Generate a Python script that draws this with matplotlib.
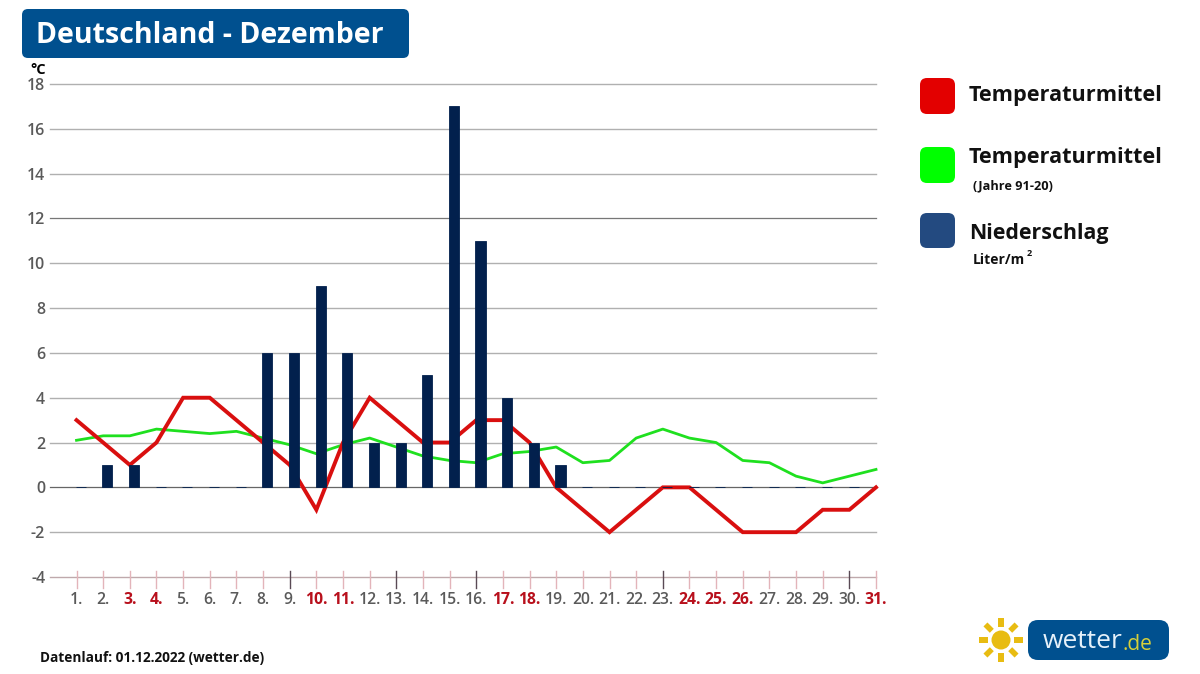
"""Deutschland - Dezember: daily mean temperature, climate mean and precipitation."""

import matplotlib

matplotlib.use("Agg")
import matplotlib.pyplot as plt
import numpy as np
from matplotlib.patches import Circle, FancyBboxPatch, Rectangle

plt.rcParams["font.family"] = ["Open Sans", "DejaVu Sans"]
plt.rcParams["axes.unicode_minus"] = False

DAYS = list(range(1, 32))
TEMP = [3, 2, 1, 2, 4, 4, 3, 2, 1, -1, 2, 4, 3, 2, 2, 3, 3, 2, 0, -1, -2, -1, 0, 0, -1, -2, -2, -2, -1, -1, 0]
CLIMATE = [2.1, 2.3, 2.3, 2.6, 2.5, 2.4, 2.5, 2.2, 1.9, 1.5, 1.9, 2.2, 1.8, 1.4, 1.2, 1.1,
           1.5, 1.6, 1.8, 1.1, 1.2, 2.2, 2.6, 2.2, 2.0, 1.2, 1.1, 0.5, 0.2, 0.5, 0.8]
RAIN = [0, 1, 1, 0, 0, 0, 0, 6, 6, 9, 6, 2, 2, 5, 17, 11, 4, 2, 1, 0, 0, 0, 0, 0, 0, 0, 0, 0, 0, 0, 0]
RED_DAYS = [3, 4, 10, 11, 17, 18, 24, 25, 26, 31]
DARK_TICKS = [9, 13, 16, 23, 30]
YTICKS = list(range(-4, 20, 2))

W, H = 1200, 674
RED = "#e30000"
LINE_RED = "#d90f0f"
GREEN = "#1fe01f"
BAR = "#02204d"
BLUE = "#00508f"
GREY = "#5a5a5a"
INK = "#111111"

fig = plt.figure(figsize=(W / 100, H / 100), dpi=100, facecolor="white")

# plot area in pixels of the original: x 50-876, y 84-577
ax = fig.add_axes([50 / W, 1 - 577 / H, 826 / W, 493 / H])
ax.set_xlim(0.005, 31)
ax.set_ylim(-4, 18)
for sp in ax.spines.values():
    sp.set_visible(False)

for v in YTICKS:
    if v == 0:
        col, lw = "#666666", 0.9
    elif v == -4:
        col, lw = "#bfa9ac", 1.0
    elif v == 12:
        col, lw = "#777777", 0.9
    else:
        col, lw = "#b0b0b0", 1.0
    ax.axhline(v, color=col, lw=lw, zorder=1, clip_on=False)

ax.plot(DAYS, CLIMATE, color=GREEN, lw=2.0, zorder=3, clip_on=False)
ax.plot(DAYS, TEMP, color=LINE_RED, lw=2.8, zorder=4, clip_on=False,
        solid_joinstyle="miter")
ax.bar(np.array(DAYS[:-1]) + 0.16, RAIN[:-1], width=0.38, color=BAR, edgecolor=BAR,
       linewidth=0.6, zorder=5)

ax.set_yticks(YTICKS)
ax.tick_params(axis="y", length=0, pad=3.5)
for lab in ax.get_yticklabels():
    lab.set_fontsize(11.5)
    lab.set_fontweight("semibold")
    lab.set_color(GREY)
    lab.set_y(lab.get_position()[1])

ax.set_xticks(DAYS)
ax.set_xticklabels([f"{d}." for d in DAYS])
ax.tick_params(axis="x", length=0, pad=11)
for d, lab in zip(DAYS, ax.get_xticklabels()):
    lab.set_fontsize(11.3)
    if d in RED_DAYS:
        lab.set_color("#b8101c")
        lab.set_fontweight("bold")
    else:
        lab.set_color(GREY)
        lab.set_fontweight("semibold")

# day ticks straddle the bottom line
for d in DAYS:
    col = "#5a4a55" if d in DARK_TICKS else "#e3b4ba"
    ax.plot([d, d], [-3.75, -4.5], color=col, lw=1.0, zorder=2, clip_on=False)

# overlay in pixel coordinates for title box, legend and logo
ov = fig.add_axes([0, 0, 1, 1], zorder=10)
ov.set_xlim(0, W)
ov.set_ylim(H, 0)
ov.axis("off")


def rbox(x0, y0, x1, y1, r, color):
    ov.add_patch(FancyBboxPatch((x0 + r, y0 + r), x1 - x0 - 2 * r, y1 - y0 - 2 * r,
                                boxstyle=f"round,pad={r},rounding_size={r}",
                                fc=color, ec="none"))


rbox(22, 9, 409, 58, 6, BLUE)
ov.text(36, 35.5, "Deutschland - Dezember", color="white", fontsize=20.5,
        fontweight="bold", va="center", ha="left")
ov.text(30, 70, "°C", color="black", fontsize=10.5, fontweight="bold", va="center")

rbox(920, 78, 955, 114, 7, RED)
rbox(920, 147, 955, 183, 7, "#00ff00")
rbox(920, 213, 955, 248, 7, "#234a80")
ov.text(969, 96, "Temperaturmittel", fontsize=15.6, fontweight="bold", va="center", color=INK)
ov.text(969, 158, "Temperaturmittel", fontsize=15.6, fontweight="bold", va="center", color=INK)
ov.text(969, 233, "Niederschlag", fontsize=15.4, fontweight="bold", va="center", color=INK)
ov.text(973, 186, "(Jahre 91-20)", fontsize=9.2, fontweight="bold", va="center", color=INK)
ov.text(973, 260, "Liter/m", fontsize=10, fontweight="bold", va="center", color=INK)
ov.text(1027, 254, "2", fontsize=6.5, fontweight="bold", va="center", color=INK)

ov.text(40, 658, "Datenlauf: 01.12.2022 (wetter.de)", fontsize=9.8, fontweight="bold",
        va="center", color=INK)

# logo
SUN = "#e8bc12"
cx, cy = 1001, 640
ov.add_patch(Circle((cx, cy), 9.5, fc=SUN, ec="none"))
for ang in np.arange(0, 360, 45):
    tr = matplotlib.transforms.Affine2D().rotate_deg_around(cx, cy, ang) + ov.transData
    ov.add_patch(Rectangle((cx + 13, cy - 2.8), 9, 5.6, fc=SUN, ec="none", transform=tr))
rbox(1028, 620, 1169, 660, 10, BLUE)
ov.text(1043, 642, "wetter", color="#e6f1fa", fontsize=19, va="center", ha="left")
ov.text(1122, 644, ".de", color="#d6cf3a", fontsize=15, va="center", ha="left")

fig.savefig("out.png", dpi=100, facecolor="white")
plt.close(fig)
